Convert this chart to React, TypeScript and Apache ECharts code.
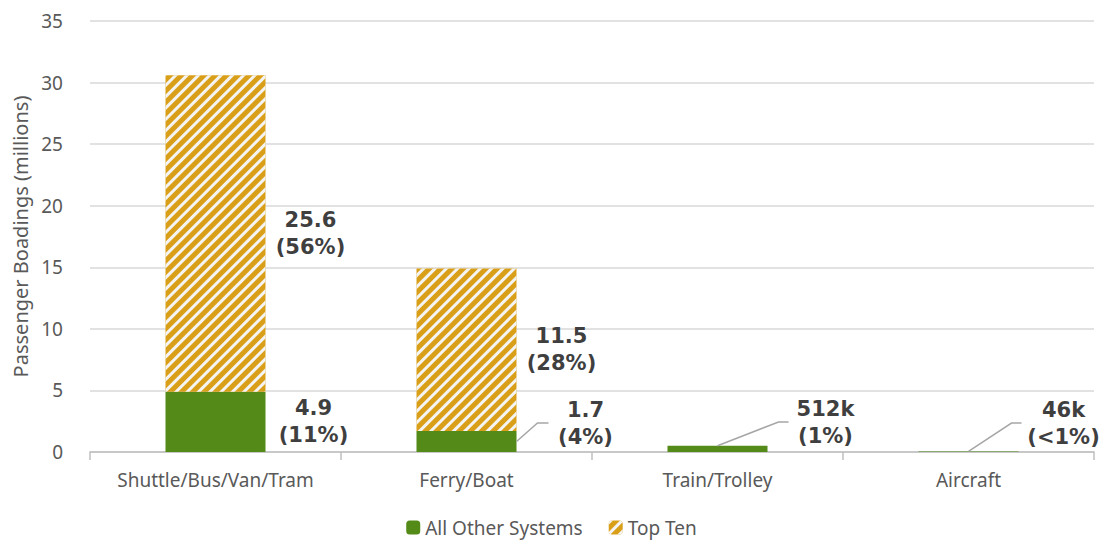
import React, { useEffect, useRef } from "react";
import * as echarts from "echarts";

const categories = ["Shuttle/Bus/Van/Tram", "Ferry/Boat", "Train/Trolley", "Aircraft"];
const allOther = [4.9, 1.7, 0.512, 0.046];
const topTen = [25.7, 13.2, 0, 0];
const allOtherLabels = ["4.9\n(11%)", "1.7\n(4%)", "512k\n(1%)", "46k\n(<1%)"];
const topTenLabels = ["25.6\n(56%)", "11.5\n(28%)", "", ""];
const seriesNames = ["All Other Systems", "Top Ten"];
const yTicks = [0, 5, 10, 15, 20, 25, 30, 35];

const GREEN = "#548A18";
const ORANGE = "#DA9F18";
const LABEL_FONT = 'bold 21px "DejaVu Sans", sans-serif';
const LABEL_COLOR = "#3F3F3F";
const AXIS_COLOR = "#595959";
const AXIS_FONT = '"Noto Sans", sans-serif';

// label placement for the small "All Other" values (pixel offsets from category center / zero line)
const leaderCfg: Array<null | { tx: number; ty: number; sx: number; sy: "bar" | "half"; mx: number; ex: number }> = [
  null,
  { tx: 119, ty: -29, sx: 50, sy: "half", mx: 71, ex: 82 },
  { tx: 108, ty: -30, sx: 0, sy: "bar", mx: 61, ex: 71 },
  { tx: 95, ty: -29, sx: 0, sy: "bar", mx: 43, ex: 53 },
];

export default function App() {
  const ref = useRef<HTMLDivElement>(null);
  useEffect(() => {
    if (!ref.current) return;
    const chart = echarts.init(ref.current, undefined, { renderer: "svg" });
    chart.setOption({
      animation: false,
      grid: { left: 90, right: 9, top: 21, bottom: 95 },
      legend: {
        bottom: 5,
        left: "center",
        itemWidth: 14,
        itemHeight: 14,
        itemGap: 26,
        textStyle: { fontFamily: AXIS_FONT, fontSize: 19, color: AXIS_COLOR },
        data: seriesNames,
      },
      xAxis: {
        type: "category",
        data: categories,
        axisLine: { lineStyle: { color: "#BFBFBF", width: 1.5 } },
        axisTick: { show: true, interval: 0, length: 8, lineStyle: { color: "#BFBFBF", width: 1.5 } },
        axisLabel: { interval: 0, fontFamily: AXIS_FONT, fontSize: 19, color: AXIS_COLOR, margin: 18 },
      },
      yAxis: {
        type: "value",
        min: 0,
        max: 35,
        interval: 5,
        name: "Passenger Boadings (millions)",
        nameLocation: "middle",
        nameGap: 56,
        nameTextStyle: { fontFamily: AXIS_FONT, fontSize: 20, color: AXIS_COLOR },
        axisLine: { show: false },
        axisTick: { show: false },
        axisLabel: {
          fontFamily: AXIS_FONT,
          fontSize: 19,
          color: AXIS_COLOR,
          margin: 27,
          formatter: (v: number) => (yTicks.includes(v) ? String(v) : ""),
        },
        splitLine: { lineStyle: { color: "#D9D9D9", width: 1.5 } },
      },
      series: [
        {
          name: seriesNames[0],
          type: "bar",
          stack: "total",
          barWidth: 100,
          data: allOther,
          itemStyle: { color: GREEN },
        },
        {
          name: seriesNames[1],
          type: "bar",
          stack: "total",
          barWidth: 100,
          data: topTen,
          itemStyle: {
            color: ORANGE,
            decal: {
              symbol: "rect",
              symbolSize: 1,
              color: "#F4F4F4",
              dashArrayX: [1, 0],
              dashArrayY: [3, 5],
              rotation: -Math.PI / 4,
            },
          },
        },
      ],
    });

    const graphics: any[] = [];
    const textStyle = (text: string, x: number, y: number) => ({
      type: "text",
      x,
      y,
      style: {
        text,
        font: LABEL_FONT,
        fill: LABEL_COLOR,
        align: "center",
        verticalAlign: "middle",
        lineHeight: 27,
      },
      z: 10,
    });
    categories.forEach((c, i) => {
      const zero = chart.convertToPixel({ xAxisIndex: 0, yAxisIndex: 0 }, [c, 0]) as number[];
      const cx = zero[0];
      const y0 = zero[1];
      if (topTenLabels[i]) {
        const p = chart.convertToPixel({ xAxisIndex: 0, yAxisIndex: 0 }, [c, allOther[i] + topTen[i] / 2]) as number[];
        graphics.push(textStyle(topTenLabels[i], cx + 95, p[1]));
      }
      const cfg = leaderCfg[i];
      if (!cfg) {
        const p = chart.convertToPixel({ xAxisIndex: 0, yAxisIndex: 0 }, [c, allOther[i] / 2]) as number[];
        graphics.push(textStyle(allOtherLabels[i], cx + 98, p[1]));
      } else {
        const top = chart.convertToPixel({ xAxisIndex: 0, yAxisIndex: 0 }, [c, allOther[i]]) as number[];
        const sy = cfg.sy === "bar" ? top[1] : (top[1] + y0) / 2;
        graphics.push(textStyle(allOtherLabels[i], cx + cfg.tx, y0 + cfg.ty));
        graphics.push({
          type: "polyline",
          shape: {
            points: [
              [cx + cfg.sx, sy],
              [cx + cfg.mx, y0 + cfg.ty],
              [cx + cfg.ex, y0 + cfg.ty],
            ],
          },
          style: { stroke: "#A6A6A6", lineWidth: 1.5, fill: "none" },
          z: 9,
        });
      }
    });
    chart.setOption({ graphic: graphics });
    return () => chart.dispose();
  }, []);
  return <div ref={ref} style={{ width: 1103, height: 547, position: "absolute", left: 0, top: 0 }} />;
}
